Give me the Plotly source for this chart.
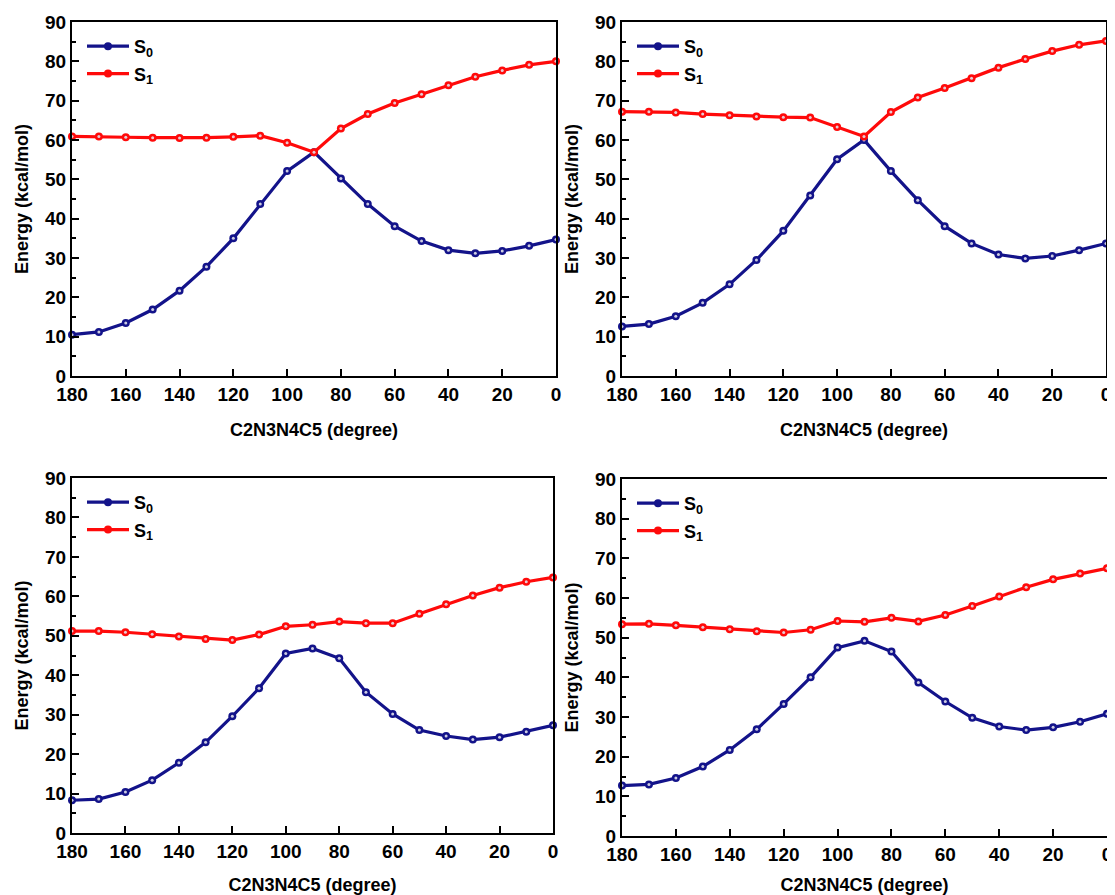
import plotly.graph_objects as go

angles = [180, 170, 160, 150, 140, 130, 120, 110, 100, 90, 80, 70, 60, 50, 40, 30, 20, 10, 0]

a_s0 = [10.5, 11.2, 13.5, 16.9, 21.7, 27.8, 35.0, 43.7, 52.1, 56.9, 50.2, 43.7, 38.1, 34.3, 32.0, 31.2, 31.8, 33.1, 34.7]
a_s1 = [60.9, 60.9, 60.7, 60.6, 60.5, 60.6, 60.8, 61.1, 59.3, 56.9, 62.9, 66.6, 69.4, 71.6, 73.9, 76.1, 77.7, 79.1, 80.0]

b_s0 = [12.6, 13.2, 15.2, 18.6, 23.3, 29.5, 36.9, 45.9, 55.1, 60.0, 52.1, 44.7, 38.1, 33.7, 30.9, 29.9, 30.5, 32.0, 33.7]
b_s1 = [67.2, 67.2, 67.0, 66.6, 66.3, 66.0, 65.8, 65.7, 63.3, 60.9, 67.1, 70.8, 73.2, 75.7, 78.4, 80.6, 82.6, 84.2, 85.2]

c_s0 = [8.3, 8.6, 10.4, 13.4, 17.8, 23.0, 29.6, 36.7, 45.5, 46.8, 44.3, 35.7, 30.2, 26.1, 24.6, 23.7, 24.3, 25.7, 27.3]
c_s1 = [51.2, 51.2, 50.9, 50.4, 49.8, 49.2, 48.9, 50.3, 52.4, 52.8, 53.6, 53.2, 53.2, 55.6, 58.0, 60.2, 62.2, 63.7, 64.8]

d_s0 = [12.7, 13.0, 14.6, 17.5, 21.7, 26.9, 33.3, 40.0, 47.5, 49.2, 46.5, 38.7, 33.9, 29.8, 27.6, 26.7, 27.4, 28.8, 30.8]
d_s1 = [53.4, 53.5, 53.1, 52.6, 52.1, 51.6, 51.3, 52.0, 54.2, 54.0, 55.0, 54.1, 55.7, 58.0, 60.4, 62.7, 64.7, 66.2, 67.5]

x_ticks = [180, 160, 140, 120, 100, 80, 60, 40, 20, 0]
y_ticks = [0, 10, 20, 30, 40, 50, 60, 70, 80, 90]
series_names = ["S<sub>0</sub>", "S<sub>1</sub>"]
x_title = "C2N3N4C5 (degree)"
y_title = "Energy (kcal/mol)"

NAVY = "#13138a"
RED = "#ff0a0a"
FONT = "Liberation Sans"

PAGE_OFF = 8  # default body margin of the html page
W, H = 1115 - PAGE_OFF, 895 - PAGE_OFF
panels = [
    # (s0, s1, x0, x1, y_top_px, y_bottom_px) in page pixels
    (a_s0, a_s1, 72, 556, 22, 376),
    (b_s0, b_s1, 622, 1106, 22, 376),
    (c_s0, c_s1, 72, 553, 478, 833),
    (d_s0, d_s1, 622, 1107, 479, 836),
]

fig = go.Figure()
layout = {}
for i, (s0, s1, px0, px1, pyt, pyb) in enumerate(panels):
    px0, px1, pyt, pyb = px0 - PAGE_OFF, px1 - PAGE_OFF, pyt - PAGE_OFF, pyb - PAGE_OFF
    n = "" if i == 0 else str(i + 1)
    xa, ya = "x" + n, "y" + n
    leg = "legend" + n
    for vals, col, name in ((s0, NAVY, series_names[0]), (s1, RED, series_names[1])):
        fig.add_trace(go.Scatter(
            x=angles, y=vals, mode="lines+markers", name=name,
            line=dict(color=col, width=3.2),
            marker=dict(symbol="circle", size=8, color=col),
            xaxis=xa, yaxis=ya, legend=leg, legendgroup=name + n,
            cliponaxis=False,
        ))
        fig.add_trace(go.Scatter(
            x=angles, y=vals, mode="markers", showlegend=False, hoverinfo="skip",
            marker=dict(symbol="circle", size=3, color="rgba(225,225,235,0.9)"),
            xaxis=xa, yaxis=ya, cliponaxis=False,
        ))
    dx = [px0 / W, px1 / W]
    dy = [1 - pyb / H, 1 - pyt / H]
    axis_common = dict(
        showline=True, linecolor="black", linewidth=2, mirror=True,
        ticks="inside", tickcolor="black", tickwidth=2, ticklen=7,
        showgrid=False, zeroline=False, automargin=False,
        tickfont=dict(family=FONT, size=19, color="black", weight="bold"),
    )
    layout["xaxis" + n] = dict(
        axis_common, domain=dx, range=[180, 0], tickvals=x_ticks,
        anchor=ya,
        title=dict(text=x_title, font=dict(family=FONT, size=18, color="black", weight="bold"), standoff=20),
    )
    layout["yaxis" + n] = dict(
        axis_common, domain=dy, range=[0, 90], tickvals=y_ticks,
        anchor=xa,
        minor=dict(ticks="inside", dtick=5, ticklen=4, tickwidth=2, tickcolor="black"),
        title=dict(text=y_title, font=dict(family=FONT, size=18, color="black", weight="bold"), standoff=12),
    )
    layout[leg] = dict(
        x=(px0 + 10) / W, y=1 - (pyt + 6) / H, xanchor="left", yanchor="top",
        bgcolor="rgba(0,0,0,0)", borderwidth=0, tracegroupgap=1, itemwidth=42,
        font=dict(family=FONT, size=18, color="black", weight="bold"),
        traceorder="grouped",
    )

fig.update_layout(
    width=W, height=H, margin=dict(l=0, r=0, t=0, b=0),
    paper_bgcolor="white", plot_bgcolor="white",
    font=dict(family=FONT, color="black"),
    **layout,
)

fig.write_html("out.html")
